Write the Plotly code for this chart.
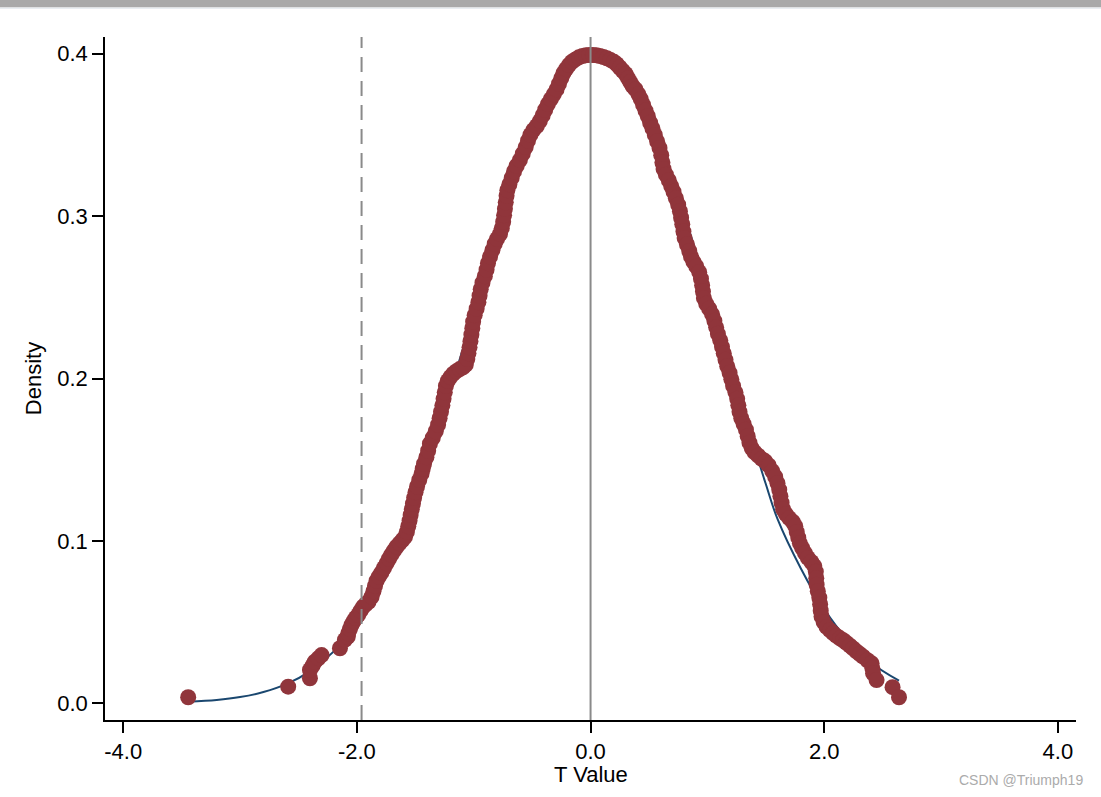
import plotly.graph_objects as go

# Placebo t-values (x) and their kernel density (y)
t_values = [
    -3.444, -2.588, -2.402, -2.402, -2.380, -2.360, -2.330, -2.302, -2.145, -2.103,
    -2.078, -2.074, -2.060, -2.046, -2.028, -2.010, -1.989, -1.968, -1.946, -1.924,
    -1.900, -1.874, -1.858, -1.845, -1.831, -1.812, -1.790, -1.768, -1.746, -1.725,
    -1.705, -1.683, -1.660, -1.635, -1.610, -1.588, -1.572, -1.560, -1.549, -1.540,
    -1.530, -1.520, -1.510, -1.498, -1.485, -1.466, -1.446, -1.436, -1.425, -1.405,
    -1.390, -1.375, -1.350, -1.325, -1.305, -1.292, -1.280, -1.268, -1.258, -1.248,
    -1.238, -1.222, -1.200, -1.175, -1.148, -1.120, -1.092, -1.068, -1.055, -1.045,
    -1.036, -1.028, -1.020, -1.012, -1.005,
    -0.992, -0.975, -0.960, -0.950, -0.940, -0.925, -0.905, -0.890, -0.878, -0.860,
    -0.840, -0.820, -0.800, -0.775, -0.760, -0.748, -0.740, -0.733, -0.726, -0.719,
    -0.712, -0.695, -0.675, -0.655, -0.632, -0.605, -0.580, -0.555, -0.535, -0.515,
    -0.490, -0.460, -0.434, -0.410, -0.388, -0.365, -0.340, -0.315, -0.291, -0.270,
    -0.250, -0.232, -0.210, -0.185, -0.160, -0.130, -0.100, -0.070, -0.040, -0.010,
    0.020, 0.050, 0.080, 0.110, 0.140, 0.170, 0.200, 0.225, 0.250, 0.275,
    0.300, 0.320, 0.340, 0.360, 0.385, 0.410, 0.430, 0.450, 0.470, 0.490,
    0.510, 0.530, 0.550, 0.570, 0.590, 0.605, 0.615, 0.625, 0.645, 0.670,
    0.690, 0.710, 0.730, 0.750, 0.765, 0.775, 0.785, 0.795, 0.805, 0.825,
    0.845, 0.860, 0.880, 0.905, 0.930, 0.945, 0.955, 0.962, 0.970, 0.990,
    1.015, 1.040, 1.060, 1.075, 1.090, 1.110, 1.125, 1.140, 1.155, 1.170,
    1.190, 1.205, 1.220, 1.240, 1.255, 1.265, 1.275, 1.290, 1.310, 1.330,
    1.345, 1.360, 1.380, 1.405, 1.435, 1.465, 1.495, 1.525, 1.555, 1.580,
    1.600, 1.615, 1.625, 1.635, 1.648, 1.672, 1.700, 1.730, 1.752, 1.765,
    1.778, 1.792, 1.812, 1.835, 1.860, 1.890, 1.915, 1.928, 1.932, 1.935,
    1.945, 1.958, 1.965, 1.970, 1.977, 1.995, 2.020, 2.048, 2.076, 2.105,
    2.135, 2.162, 2.190, 2.220, 2.247, 2.275, 2.305, 2.333, 2.370, 2.405,
    2.412, 2.418, 2.448, 2.585, 2.640,
]
density = [
    0.0037, 0.0102, 0.0154, 0.0205, 0.0230, 0.0256, 0.0277, 0.0297, 0.0339, 0.0390,
    0.0410, 0.0431, 0.0457, 0.0482, 0.0505, 0.0525, 0.0544, 0.0570, 0.0595, 0.0610,
    0.0625, 0.0656, 0.0690, 0.0722, 0.0755, 0.0780, 0.0805, 0.0833, 0.0862, 0.0890,
    0.0915, 0.0940, 0.0964, 0.0985, 0.1005, 0.1025, 0.1055, 0.1090, 0.1125, 0.1160,
    0.1195, 0.1230, 0.1265, 0.1300, 0.1335, 0.1375, 0.1415, 0.1445, 0.1475, 0.1515,
    0.1555, 0.1598, 0.1635, 0.1675, 0.1715, 0.1755, 0.1795, 0.1835, 0.1875, 0.1915,
    0.1955, 0.1985, 0.2008, 0.2030, 0.2045, 0.2058, 0.2068, 0.2085, 0.2120, 0.2155,
    0.2192, 0.2230, 0.2270, 0.2310, 0.2350,
    0.2390, 0.2430, 0.2470, 0.2510, 0.2550, 0.2590, 0.2630, 0.2670, 0.2710, 0.2750,
    0.2790, 0.2830, 0.2860, 0.2890, 0.2925, 0.2965, 0.3005, 0.3045, 0.3085, 0.3125,
    0.3160, 0.3195, 0.3235, 0.3275, 0.3310, 0.3345, 0.3385, 0.3425, 0.3465, 0.3500,
    0.3530, 0.3555, 0.3585, 0.3620, 0.3655, 0.3690, 0.3720, 0.3750, 0.3780, 0.3815,
    0.3850, 0.3880, 0.3905, 0.3930, 0.3950, 0.3965, 0.3978, 0.3986, 0.3990, 0.3992,
    0.3992, 0.3990, 0.3986, 0.3980, 0.3972, 0.3962, 0.3950, 0.3935, 0.3915, 0.3895,
    0.3875, 0.3850, 0.3825, 0.3800, 0.3780, 0.3750, 0.3720, 0.3685, 0.3650, 0.3615,
    0.3575, 0.3540, 0.3500, 0.3460, 0.3420, 0.3375, 0.3330, 0.3290, 0.3255, 0.3220,
    0.3185, 0.3150, 0.3110, 0.3070, 0.3030, 0.2990, 0.2950, 0.2905, 0.2865, 0.2825,
    0.2785, 0.2750, 0.2720, 0.2690, 0.2655, 0.2615, 0.2575, 0.2535, 0.2495, 0.2460,
    0.2430, 0.2395, 0.2355, 0.2315, 0.2275, 0.2235, 0.2195, 0.2155, 0.2115, 0.2075,
    0.2035, 0.1995, 0.1955, 0.1915, 0.1875, 0.1835, 0.1795, 0.1755, 0.1720, 0.1685,
    0.1645, 0.1605, 0.1570, 0.1545, 0.1525, 0.1505, 0.1490, 0.1465, 0.1430, 0.1395,
    0.1355, 0.1315, 0.1275, 0.1235, 0.1195, 0.1165, 0.1140, 0.1118, 0.1090, 0.1055,
    0.1020, 0.0985, 0.0955, 0.0925, 0.0895, 0.0870, 0.0845, 0.0810, 0.0770, 0.0730,
    0.0690, 0.0650, 0.0610, 0.0570, 0.0535, 0.0500, 0.0470, 0.0450, 0.0432, 0.0415,
    0.0400, 0.0388, 0.0372, 0.0355, 0.0338, 0.0320, 0.0303, 0.0287, 0.0265, 0.0246,
    0.0215, 0.0185, 0.0143, 0.0099, 0.0037,
]
assert len(t_values) == len(density)

# Reference normal density curve
normal_x = [-3.444, -3.2, -3.0, -2.8, -2.6, -2.4, -2.2, -2.0, -1.8, -1.6, -1.4, -1.2,
            -1.0, -0.8, -0.6, -0.4, -0.2, 0.0, 0.2, 0.4, 0.6, 0.8, 1.0, 1.2, 1.4,
            1.5, 1.6, 1.8, 2.0, 2.2, 2.4, 2.640]
normal_y = [0.0009, 0.0020, 0.0038, 0.0069, 0.0119, 0.0198, 0.0318, 0.0488, 0.0750,
            0.1040, 0.1480, 0.1930, 0.2400, 0.2870, 0.3280, 0.3640, 0.3880, 0.3984,
            0.3945, 0.3752, 0.3430, 0.3012, 0.2541, 0.2040, 0.1580, 0.1350, 0.1135,
            0.0830, 0.0580, 0.0390, 0.0250, 0.0139]

critical_t = -1.96
center_t = 0.0

x_tick_vals = [-4, -2, 0, 2, 4]
x_tick_text = ["-4.0", "-2.0", "0.0", "2.0", "4.0"]
y_tick_vals = [0.0, 0.1, 0.2, 0.3, 0.4]
y_tick_text = ["0.0", "0.1", "0.2", "0.3", "0.4"]

FONT = "Liberation Sans, Arial, sans-serif"
RED = "#90353b"
BLUE = "#1a476f"

fig = go.Figure()
fig.add_trace(go.Scatter(
    x=normal_x, y=normal_y, mode="lines",
    line=dict(color=BLUE, width=2, shape="spline"),
    hoverinfo="skip",
))
fig.add_trace(go.Scatter(
    x=t_values, y=density, mode="markers",
    marker=dict(color=RED, size=16, line=dict(width=0)),
))

fig.add_shape(type="line", xref="x", yref="paper", x0=critical_t, x1=critical_t,
              y0=0, y1=1, line=dict(color="#8a8a8a", width=2, dash="15px,9px"))
fig.add_shape(type="line", xref="x", yref="paper", x0=center_t, x1=center_t,
              y0=0, y1=1, line=dict(color="#8a8a8a", width=2))

# top grey band of the screenshot
fig.add_shape(type="rect", xref="paper", yref="paper",
              x0=-0.12, x1=1.03, y0=1.0432, y1=1.06,
              line=dict(width=0), fillcolor="#a9a9a9")
fig.add_shape(type="rect", xref="paper", yref="paper",
              x0=-0.12, x1=1.03, y0=1.0410, y1=1.0432,
              line=dict(width=0), fillcolor="#e9eef2")

fig.add_annotation(text="T Value", xref="paper", yref="paper",
                   x=0.5, y=-0.0805, xanchor="center", yanchor="middle",
                   showarrow=False, font=dict(family=FONT, size=22, color="black"))
fig.add_annotation(text="CSDN @Triumph19", xref="paper", yref="paper",
                   x=1.0093, y=-0.0879, xanchor="right", yanchor="middle",
                   showarrow=False, font=dict(family=FONT, size=14, color="#ababab"))

fig.update_layout(
    width=1101, height=797,
    margin=dict(l=105, r=25, t=37, b=77, pad=0),
    paper_bgcolor="white", plot_bgcolor="white",
    showlegend=False,
    font=dict(family=FONT, size=22, color="black"),
    xaxis=dict(
        range=[-4.156, 4.155], tickvals=x_tick_vals, ticktext=x_tick_text,
        showgrid=False, zeroline=False, showline=True, linecolor="black", linewidth=1.5,
        ticks="outside", ticklen=11, tickwidth=1.5, tickcolor="black",
        tickfont=dict(size=22),
    ),
    yaxis=dict(
        range=[-0.0103, 0.4103], tickvals=y_tick_vals, ticktext=y_tick_text,
        showgrid=False, zeroline=False, showline=True, linecolor="black", linewidth=1.5,
        ticks="outside", ticklen=11, tickwidth=1.5, tickcolor="black",
        title=dict(text="Density", standoff=10, font=dict(size=22)),
        tickfont=dict(size=22),
    ),
)

fig.write_html("out.html", config={"displayModeBar": False})

# remove the default page margin so the figure sits at the window's top-left corner
with open("out.html", "r", encoding="utf-8") as f:
    html = f.read()
html = html.replace("<body>", '<body style="margin:0;overflow:hidden;">', 1)
with open("out.html", "w", encoding="utf-8") as f:
    f.write(html)
